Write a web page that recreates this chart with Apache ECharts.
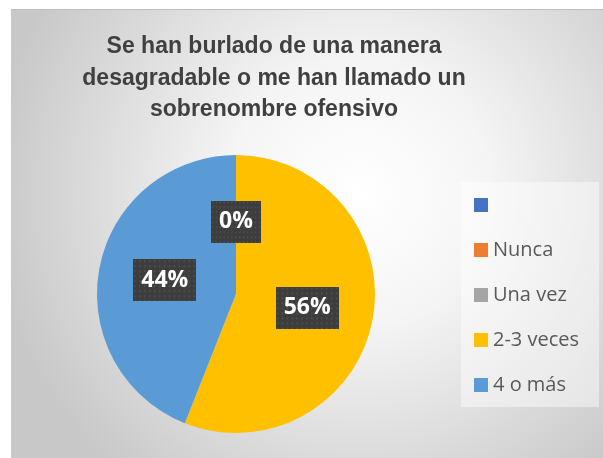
<!DOCTYPE html>
<html>
<head>
<meta charset="utf-8">
<script src="https://cdn.jsdelivr.net/npm/echarts@6/dist/echarts.min.js"></script>
<style>
  html, body { margin: 0; padding: 0; background: #fff; }
  #container { width: 603px; height: 458px; }
</style>
</head>
<body>
<div id="container"></div>
<script>
var titleText = 'Se han burlado de una manera\ndesagradable o me han llamado un\nsobrenombre ofensivo';
// first category has no label in the source; a space keeps it in the legend
var categories = [' ', 'Nunca', 'Una vez', '2-3 veces', '4 o más'];
var percents = [0, 0, 0, 56, 44];
var colors = ['#4472C4', '#ED7D31', '#A5A5A5', '#FFC000', '#5B9BD5'];

// dotted dark background for the data labels
var tile = document.createElement('canvas');
tile.width = 64;
tile.height = 42;
var ctx = tile.getContext('2d');
ctx.fillStyle = '#3d3d3d';
ctx.fillRect(0, 0, 64, 42);
ctx.fillStyle = '#585858';
for (var x = 1; x < 64; x += 5) {
  for (var y = 1; y < 42; y += 5) {
    ctx.fillRect(x, y, 1.5, 1.5);
  }
}

var dom = document.getElementById('container');
var myChart = echarts.init(dom, null, { renderer: 'canvas' });

var option = {
  backgroundColor: '#ffffff',
  animation: false,
  color: colors,
  graphic: [
    {
      type: 'rect',
      z: -10,
      shape: { x: 11, y: 9, width: 600, height: 460 },
      style: {
        fill: {
          type: 'radial', x: 0.58, y: 0.4, r: 0.8,
          colorStops: [
            { offset: 0, color: '#ffffff' },
            { offset: 0.35, color: '#f5f5f5' },
            { offset: 1, color: '#c8c8c8' }
          ]
        }
      }
    },
    {
      type: 'line',
      z: -9,
      shape: { x1: 11, y1: 9.5, x2: 603, y2: 9.5 },
      style: { stroke: '#bdbdbd', lineWidth: 1 }
    }
  ],
  title: {
    text: titleText,
    left: 274,
    top: 31,
    padding: 0,
    textAlign: 'center',
    textStyle: {
      fontFamily: 'Liberation Sans',
      fontWeight: 'bold',
      fontSize: 23,
      lineHeight: 31.5,
      color: '#404040'
    }
  },
  legend: {
    orient: 'vertical',
    left: 461,
    top: 182,
    padding: [13, 20, 12, 13],
    backgroundColor: 'rgba(255,255,255,0.45)',
    icon: 'rect',
    itemWidth: 14,
    itemHeight: 14,
    itemGap: 25,
    selectedMode: false,
    textStyle: {
      fontFamily: 'Open Sans',
      fontSize: 20,
      lineHeight: 20,
      color: '#595959'
    },
    data: categories
  },
  series: [
    {
      type: 'pie',
      center: [236, 294],
      radius: 139,
      startAngle: 90,
      clockwise: true,
      labelLayout: { hideOverlap: true },
      itemStyle: { borderWidth: 0 },
      label: {
        show: true,
        position: 'inside',
        formatter: '{c}%',
        fontFamily: 'Open Sans',
        fontWeight: 'bold',
        fontSize: 23,
        lineHeight: 26,
        color: '#ffffff',
        padding: [8, 8, 8, 8],
        backgroundColor: { image: tile },
        shadowColor: 'rgba(0,0,0,0.55)',
        shadowBlur: 5,
        shadowOffsetX: 3,
        shadowOffsetY: 3
      },
      labelLine: { show: false },
      emphasis: { disabled: true },
      data: categories.map(function (name, i) {
        return { name: name, value: percents[i] };
      })
    }
  ]
};

myChart.setOption(option);
window.addEventListener('resize', myChart.resize);
</script>
</body>
</html>
